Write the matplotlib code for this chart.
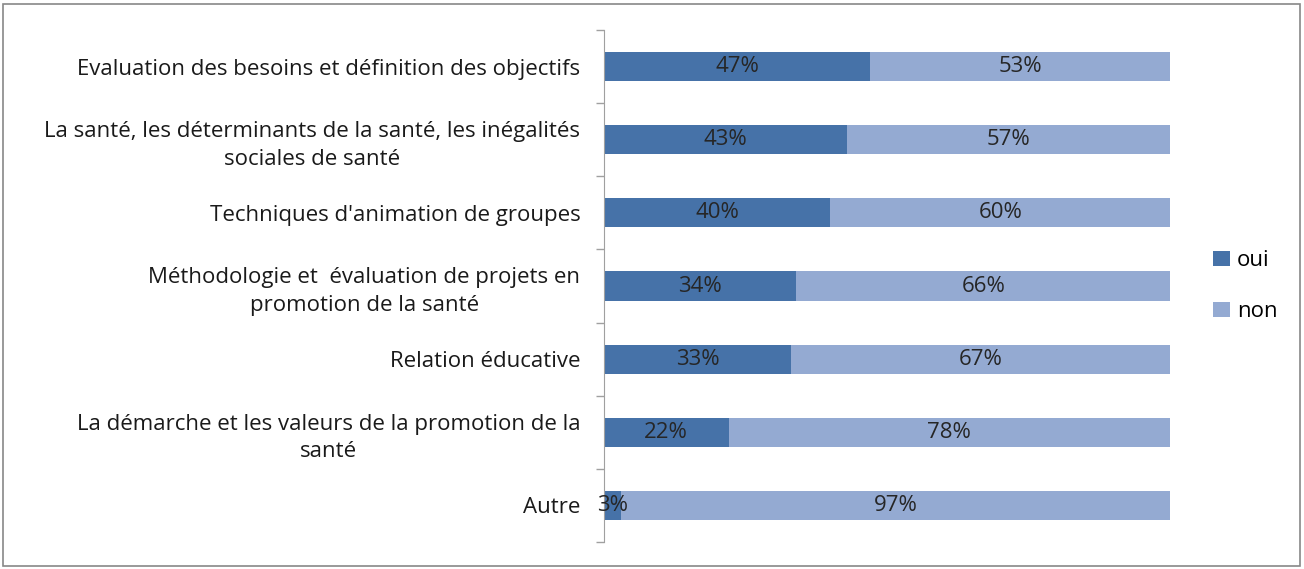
import matplotlib.pyplot as plt
from matplotlib.patches import Rectangle
import numpy as np

plt.rcParams['font.family'] = ['Open Sans', 'DejaVu Sans']

categories = [
    "Evaluation des besoins et définition des objectifs",
    "La santé, les déterminants de la santé, les inégalités\nsociales de santé",
    "Techniques d'animation de groupes",
    "Méthodologie et  évaluation de projets en\npromotion de la santé",
    "Relation éducative",
    "La démarche et les valeurs de la promotion de la\nsanté",
    "Autre",
]
oui = [47, 43, 40, 34, 33, 22, 3]
non = [53, 57, 60, 66, 67, 78, 97]

c_oui = '#4672a8'
c_non = '#94aad2'
fs = 16

fig = plt.figure(figsize=(13.04, 5.69), dpi=100)
ax = fig.add_axes([604/1304, 1 - 542/569, (1170 - 604)/1304, (542 - 30)/569])

y = np.arange(len(categories))[::-1]
ax.barh(y, oui, height=0.4, color=c_oui, label='oui')
ax.barh(y, non, left=oui, height=0.4, color=c_non, label='non')

for yi, a, b in zip(y, oui, non):
    ax.text(a / 2, yi, f"{a}%", ha='center', va='center', fontsize=fs, color='#262626')
    ax.text(a + b / 2, yi, f"{b}%", ha='center', va='center', fontsize=fs, color='#262626')

ax.set_xlim(0, 100)
ax.set_ylim(-0.5, len(categories) - 0.5)
ax.set_xticks([])
ax.set_yticks(y)
ax.set_yticklabels(categories, fontsize=fs, color='#1a1a1a')
for t in ax.get_yticklabels():
    t.set_multialignment('center')
    t.set_linespacing(1.4)
ax.set_yticks(np.arange(len(categories) + 1) - 0.5, minor=True)
ax.tick_params(axis='y', which='major', length=0, pad=17)
ax.tick_params(axis='y', which='minor', length=6, color='#a0a0a0', width=1)
for s in ['top', 'right', 'bottom']:
    ax.spines[s].set_visible(False)
ax.spines['left'].set_color('#a0a0a0')

ax.legend(loc='center left', bbox_to_anchor=(1 + 43/566, 0.5), frameon=False,
          fontsize=fs, handlelength=0.77, handleheight=0.65, handletextpad=0.32,
          labelspacing=1.35, borderpad=0, borderaxespad=0)

fig.add_artist(Rectangle((3/1304, 3/569), 1 - 7/1304, 1 - 7/569, transform=fig.transFigure,
                         fill=False, edgecolor='#888888', linewidth=1.2))

fig.savefig('out.png', dpi=100)
